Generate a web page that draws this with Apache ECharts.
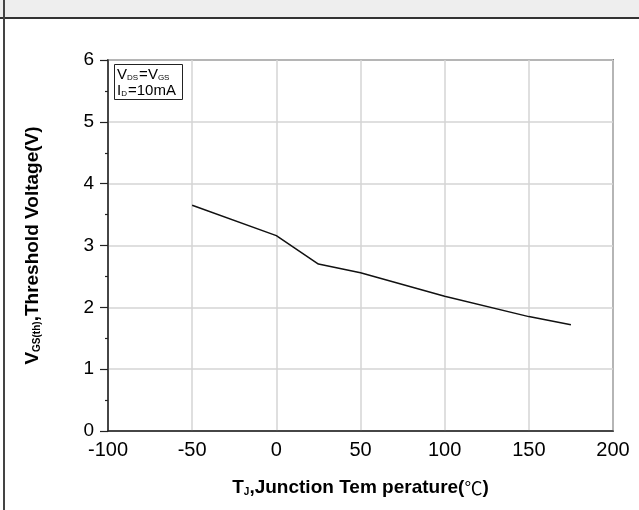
<!DOCTYPE html>
<html>
<head>
<meta charset="utf-8">
<script src="https://cdn.jsdelivr.net/npm/echarts@6/dist/echarts.min.js"></script>
<style>
  html, body { margin: 0; padding: 0; background: #fff; }
  #chart { width: 639px; height: 510px; }
</style>
</head>
<body>
<div id="chart"></div>
<script>
// Junction temperature (°C) and gate threshold voltage (V)
const temperature = [-50, 0, 25, 50, 100, 150, 175];
const thresholdVoltage = [3.65, 3.16, 2.70, 2.56, 2.18, 1.85, 1.72];
const xTicks = [-100, -50, 0, 50, 100, 150, 200];
const yTicks = [0, 1, 2, 3, 4, 5, 6];

const chart = echarts.init(document.getElementById('chart'), null, { renderer: 'canvas' });

const sansFont = '"Liberation Sans", Arial, sans-serif';

chart.setOption({
  backgroundColor: '#ffffff',
  animation: false,
  graphic: [
    { type: 'rect', left: 0, top: 0, shape: { width: 639, height: 18 }, style: { fill: '#eeeeee' }, silent: true },
    { type: 'line', shape: { x1: 0, y1: 18, x2: 639, y2: 18 }, style: { stroke: '#333', lineWidth: 2 }, silent: true },
    { type: 'line', shape: { x1: 4, y1: 0, x2: 4, y2: 510 }, style: { stroke: '#444', lineWidth: 2 }, silent: true }
  ],
  title: {
    left: 114,
    top: 63,
    padding: [3, 7, 2, 3],
    borderColor: '#222',
    borderWidth: 1,
    text: '{n|V}{s|DS}{n|=V}{s|GS}\n{n|I}{s|D}{n|=10mA}',
    textStyle: {
      rich: {
        n: { fontFamily: sansFont, fontSize: 15, fontWeight: 'normal', color: '#000', lineHeight: 16, verticalAlign: 'bottom' },
        s: { fontFamily: sansFont, fontSize: 8, fontWeight: 'normal', color: '#000', lineHeight: 16, verticalAlign: 'bottom', padding: [0, 1, 0, 0] }
      }
    }
  },
  grid: {
    left: 108,
    right: 26,
    top: 60,
    bottom: 79,
    show: true,
    borderColor: '#222',
    borderWidth: 1.5
  },
  xAxis: {
    type: 'value',
    min: xTicks[0],
    max: xTicks[xTicks.length - 1],
    interval: 50,
    axisLine: { show: true, onZero: false, lineStyle: { color: '#222', width: 1.5 } },
    axisTick: { show: false },
    axisLabel: { color: '#000', fontSize: 20, fontFamily: sansFont, margin: 9 },
    splitLine: { show: true, lineStyle: { color: '#d4d4d4', width: 1.5 } },
    name: '{b|T}{s|J}{b|,Junction Tem perature(}{c|℃}{b|)}',
    nameLocation: 'middle',
    nameGap: 44,
    nameTextStyle: {
      rich: {
        b: { fontFamily: sansFont, fontSize: 19, fontWeight: 'bold', color: '#000', lineHeight: 22, verticalAlign: 'bottom' },
        s: { fontFamily: sansFont, fontSize: 10, fontWeight: 'bold', color: '#000', lineHeight: 22, verticalAlign: 'bottom' },
        c: { fontFamily: '"Noto Sans CJK SC", sans-serif', fontSize: 18, color: '#000', lineHeight: 22, verticalAlign: 'bottom' }
      }
    }
  },
  yAxis: {
    type: 'value',
    min: yTicks[0],
    max: yTicks[yTicks.length - 1],
    interval: 1,
    axisLine: { show: true, onZero: false, lineStyle: { color: '#222', width: 1.5 } },
    axisTick: { show: true, inside: false, length: 8, lineStyle: { color: '#222', width: 1.2 } },
    minorTick: { show: true, splitNumber: 2, length: 3, lineStyle: { color: '#222', width: 1.2 } },
    axisLabel: { color: '#000', fontSize: 19, fontFamily: sansFont, margin: 14 },
    splitLine: { show: true, lineStyle: { color: '#d4d4d4', width: 1.5 } },
    name: '{b|V}{s|GS(th)}{b|,Threshold Voltage(V)}',
    nameLocation: 'middle',
    nameRotate: 90,
    nameGap: 66,
    nameTextStyle: {
      rich: {
        b: { fontFamily: sansFont, fontSize: 19, fontWeight: 'bold', color: '#000', lineHeight: 22, verticalAlign: 'bottom' },
        s: { fontFamily: sansFont, fontSize: 10, fontWeight: 'bold', color: '#000', lineHeight: 22, verticalAlign: 'bottom' }
      }
    }
  },
  series: [{
    type: 'line',
    data: temperature.map((t, i) => [t, thresholdVoltage[i]]),
    showSymbol: false,
    symbol: 'none',
    lineStyle: { color: '#111', width: 1.5 }
  }]
});
</script>
</body>
</html>
